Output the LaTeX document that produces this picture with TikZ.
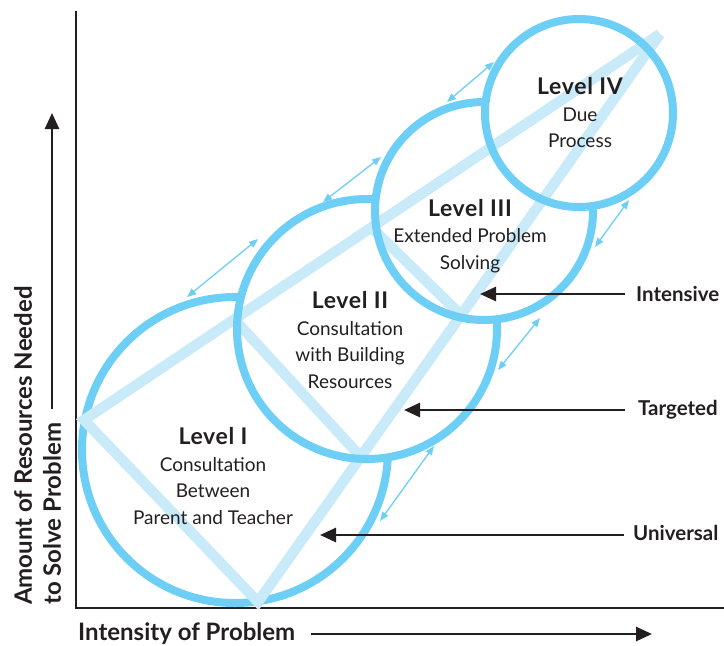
\documentclass[tikz,border=0pt]{standalone}
\usepackage{fontspec}
\setmainfont{Lato}
\usetikzlibrary{arrows.meta,positioning}

\definecolor{ringblue}{HTML}{6DCFF6}
\definecolor{paleblue}{HTML}{C8EAF9}
\definecolor{inkblack}{HTML}{231F20}

\newcommand{\lvltitle}[1]{{\fontsize{23}{26.5}\selectfont\bfseries\addfontfeature{LetterSpace=3}#1}}

\tikzset{
  ring/.style={line width=8pt, draw=ringblue},
  paleline/.style={line width=10.5pt, draw=paleblue, line join=miter},
  link/.style={draw=ringblue, line width=1.3pt, {Triangle[length=9pt,width=7pt]}-{Triangle[length=9pt,width=7pt]}},
  tier/.style={draw=inkblack, line width=2.6pt, -{Triangle[length=16pt,width=14pt]}},
  levelbox/.style={align=center, font=\fontsize{19}{26.5}\selectfont, text=inkblack},
  tierlabel/.style={anchor=west, inner sep=0pt, font=\fontsize{20.5}{24}\selectfont\bfseries, text=inkblack},
  axislabel/.style={inner sep=0pt, font=\fontsize{24}{26}\selectfont\bfseries, text=inkblack},
}

\begin{document}
\begin{tikzpicture}[x=1pt, y=-1pt]
\useasboundingbox (0,0) rectangle (724,646);

% circle centres
\coordinate (cI) at (235,450);
\coordinate (cII) at (367,329);
\coordinate (cIII) at (484,211);
\coordinate (cIV) at (579,113);

% axes
\draw[inkblack, line width=1.1pt] (76,11) -- (76,608) -- (724,608);

% level I ring, hidden where ring II overlaps it
\begin{scope}[even odd rule]
  \clip (-10,-10) rectangle (740,660) (cII) circle[radius=130pt];
  \draw[ring] (cI) circle[radius=153pt];
\end{scope}

% pale triangles
\draw[paleline] (660,34) -- (84,420) -- (258,602) -- (660,34);
\draw[paleline] (235,320) -- (360,456);
\draw[paleline] (370,226) -- (462,316);

\begin{scope}[even odd rule]
  \clip (-10,-10) rectangle (740,660) (cIII) circle[radius=109pt];
  \draw[ring] (cII) circle[radius=130pt];
\end{scope}
\begin{scope}[even odd rule]
  \clip (-10,-10) rectangle (740,660) (cIV) circle[radius=94pt];
  \draw[ring] (cIII) circle[radius=109pt];
\end{scope}
\draw[ring] (cIV) circle[radius=94pt];

% links between neighbouring rings
\coordinate (lA1) at (187,297); \coordinate (lA2) at (258,239);
\coordinate (lB1) at (323,202); \coordinate (lB2) at (381,157);
\coordinate (lC1) at (447,102); \coordinate (lC2) at (494,62);
\coordinate (lD1) at (595,247); \coordinate (lD2) at (629,200);
\coordinate (lE1) at (498,370); \coordinate (lE2) at (540,318);
\coordinate (lF1) at (380,521); \coordinate (lF2) at (434,446);
\foreach \p in {A,B,C,D,E,F}
  \draw[link] (l\p1) -- (l\p2);

% level texts
\node[levelbox] (lvlIV) at (580,113) {\lvltitle{Level IV}\\Due\\Process};
\node[levelbox] (lvlIII) at (470,236) {\lvltitle{Level III}\\Extended Problem\\Solving};
\node[levelbox] (lvlII) at (350,340) {\lvltitle{Level II}\\Consultation\\with Building\\Resources};
\node[levelbox] (lvlI) at (213,476) {\lvltitle{Level I}\\Consultation\\Between\\Parent and Teacher};

% tiers
\node[tierlabel] (intensive) at (636,294) {Intensive};
\node[tierlabel] (targeted) at (638,410) {Targeted};
\node[tierlabel] (universal) at (633,533) {Universal};
\coordinate (intensiveTip) at (480,294);
\coordinate (targetedTip) at (404,410);
\coordinate (universalTip) at (320,535);
\draw[tier] ([xshift=-11pt]intensive.west) -- (intensiveTip);
\draw[tier] ([xshift=-13pt]targeted.west) -- (targetedTip);
\draw[tier] (624,535) -- (universalTip);

% axis titles
\node[axislabel, rotate=90, anchor=west] (ylabA) at (23,605) {Amount of Resources Needed};
\node[axislabel, rotate=90, anchor=west] (ylabB) at (52,605) {to Solve Problem};
\coordinate (yTip) at (52,113);
\draw[tier] ([yshift=14pt]ylabB.east) -- (yTip);
\node[axislabel, anchor=west] (xlab) at (78,634) {Intensity of Problem};
\coordinate (xTip) at (652,634);
\draw[tier] ([xshift=16pt]xlab.east) -- (xTip);
\end{tikzpicture}
\end{document}
